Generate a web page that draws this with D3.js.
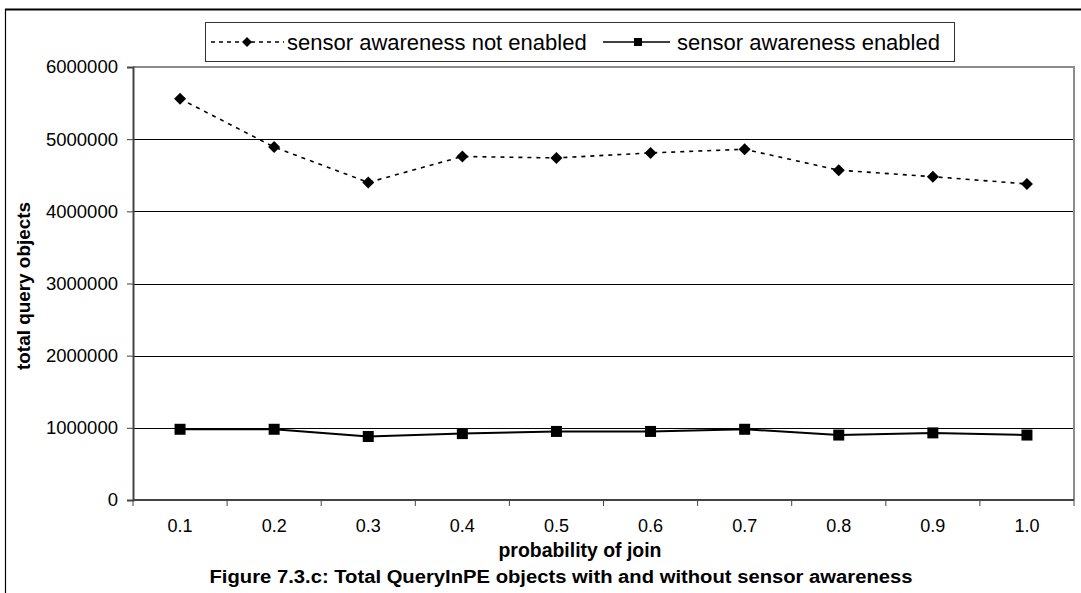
<!DOCTYPE html>
<html>
<head>
<meta charset="utf-8">
<script src="https://cdn.jsdelivr.net/npm/d3@7"></script>
<style>
  body { margin: 0; background: #fff; }
  svg { font-family: "Liberation Sans", Arial, sans-serif; }
</style>
</head>
<body>
<div id="chart"></div>
<script>
// probability of join
var categories = ["0.1", "0.2", "0.3", "0.4", "0.5", "0.6", "0.7", "0.8", "0.9", "1.0"];
// sensor awareness not enabled
var notEnabled = [5560000, 4890000, 4400000, 4760000, 4740000, 4810000, 4860000, 4570000, 4480000, 4380000];
// sensor awareness enabled
var enabled = [980000, 980000, 880000, 920000, 950000, 950000, 980000, 900000, 930000, 900000];
var yTicks = [0, 1000000, 2000000, 3000000, 4000000, 5000000, 6000000];
var seriesNames = ["sensor awareness not enabled", "sensor awareness enabled"];

var W = 1081, H = 593;
var plot = {left: 133, right: 1074, top: 67, bottom: 500};

var svg = d3.select("#chart").append("svg")
  .attr("width", W)
  .attr("height", H);

// outer frame (top and left only visible)
svg.append("line").attr("x1", 5).attr("x2", W).attr("y1", 9.5).attr("y2", 9.5)
  .attr("stroke", "#000").attr("stroke-width", 2);
svg.append("line").attr("x1", 5.5).attr("x2", 5.5).attr("y1", 9).attr("y2", H)
  .attr("stroke", "#000").attr("stroke-width", 1.2);

var x = d3.scaleBand()
  .domain(categories)
  .range([plot.left, plot.right]);

var y = d3.scaleLinear()
  .domain([0, 6000000])
  .range([plot.bottom, plot.top]);

// gridlines
svg.append("g")
  .selectAll("line")
  .data(yTicks.filter(function (d) { return d > 0 && d < 6000000; }))
  .enter().append("line")
  .attr("x1", plot.left).attr("x2", plot.right)
  .attr("y1", function (d) { return Math.round(y(d)) + 0.5; })
  .attr("y2", function (d) { return Math.round(y(d)) + 0.5; })
  .attr("stroke", "#000").attr("stroke-width", 1);

// plot border top/right (gray)
svg.append("path")
  .attr("d", "M" + plot.left + "," + plot.top + "H" + plot.right + "V" + plot.bottom)
  .attr("fill", "none").attr("stroke", "#8c8c8c").attr("stroke-width", 2);

// y axis
var yAxis = svg.append("g")
  .attr("transform", "translate(" + plot.left + ",0)")
  .call(d3.axisLeft(y).tickValues(yTicks).tickFormat(d3.format("d")).tickSize(6).tickPadding(9));
yAxis.select(".domain").attr("stroke", "#444").attr("stroke-width", 2);
yAxis.selectAll(".tick line").attr("stroke", "#444");
yAxis.selectAll("text").attr("font-size", "18.5px").attr("fill", "#000")
  .attr("font-family", "Liberation Sans, Arial, sans-serif");

// x axis: labels at category centres, ticks at band boundaries
var xAxis = svg.append("g")
  .attr("transform", "translate(0," + plot.bottom + ")")
  .call(d3.axisBottom(x).tickSize(0).tickPadding(19));
xAxis.select(".domain").remove();
xAxis.selectAll("text").attr("font-size", "18px").attr("fill", "#000")
  .attr("font-family", "Liberation Sans, Arial, sans-serif");
xAxis.append("line")
  .attr("x1", plot.left).attr("x2", plot.right)
  .attr("stroke", "#444").attr("stroke-width", 2);
xAxis.selectAll(".bt")
  .data(categories.concat(["end"]))
  .enter().append("line")
  .attr("class", "bt")
  .attr("x1", function (d, i) { return plot.left + i * x.step(); })
  .attr("x2", function (d, i) { return plot.left + i * x.step(); })
  .attr("y1", 0).attr("y2", 6)
  .attr("stroke", "#444").attr("stroke-width", 1);

var cx = function (d, i) { return x(categories[i]) + x.bandwidth() / 2; };

var line = d3.line()
  .x(cx)
  .y(function (d) { return y(d); });

// dotted series
svg.append("path")
  .datum(notEnabled)
  .attr("d", line)
  .attr("fill", "none")
  .attr("stroke", "#000")
  .attr("stroke-width", 1.6)
  .attr("stroke-dasharray", "4,5");

// solid series
svg.append("path")
  .datum(enabled)
  .attr("d", line)
  .attr("fill", "none")
  .attr("stroke", "#000")
  .attr("stroke-width", 2);

var diamond = d3.symbol().type(d3.symbolSquare).size(72);
var square = d3.symbol().type(d3.symbolSquare).size(121);

svg.selectAll(".dia")
  .data(notEnabled)
  .enter().append("path")
  .attr("class", "dia")
  .attr("d", diamond)
  .attr("transform", function (d, i) {
    return "translate(" + cx(d, i) + "," + y(d) + ") rotate(45)";
  })
  .attr("fill", "#000");

svg.selectAll(".sq")
  .data(enabled)
  .enter().append("path")
  .attr("class", "sq")
  .attr("d", square)
  .attr("transform", function (d, i) {
    return "translate(" + cx(d, i) + "," + y(d) + ")";
  })
  .attr("fill", "#000");

// legend
var legend = svg.append("g");
legend.append("rect")
  .attr("x", 205.5).attr("y", 22.5).attr("width", 749).attr("height", 39)
  .attr("fill", "#fff").attr("stroke", "#333").attr("stroke-width", 1);

legend.append("line")
  .attr("x1", 211).attr("x2", 284).attr("y1", 42).attr("y2", 42)
  .attr("stroke", "#000").attr("stroke-width", 1.6).attr("stroke-dasharray", "4,4");
legend.append("path")
  .attr("d", d3.symbol().type(d3.symbolSquare).size(50))
  .attr("transform", "translate(247,42) rotate(45)");
legend.append("text")
  .attr("x", 287).attr("y", 50)
  .attr("font-size", "22px")
  .text(seriesNames[0]);

legend.append("line")
  .attr("x1", 603).attr("x2", 670).attr("y1", 42).attr("y2", 42)
  .attr("stroke", "#000").attr("stroke-width", 1.3);
legend.append("path")
  .attr("d", d3.symbol().type(d3.symbolSquare).size(64))
  .attr("transform", "translate(638,42)");
legend.append("text")
  .attr("x", 677).attr("y", 50)
  .attr("font-size", "22px")
  .text(seriesNames[1]);

// axis titles
svg.append("text")
  .attr("x", 580).attr("y", 557)
  .attr("text-anchor", "middle")
  .attr("font-size", "19.5px").attr("font-weight", "bold")
  .attr("textLength", 163).attr("lengthAdjust", "spacingAndGlyphs")
  .text("probability of join");

svg.append("text")
  .attr("transform", "translate(30,286) rotate(-90)")
  .attr("text-anchor", "middle")
  .attr("font-size", "18px").attr("font-weight", "bold")
  .attr("textLength", 168).attr("lengthAdjust", "spacingAndGlyphs")
  .text("total query objects");

svg.append("text")
  .attr("x", 561).attr("y", 583)
  .attr("text-anchor", "middle")
  .attr("font-size", "18px").attr("font-weight", "bold")
  .attr("textLength", 703).attr("lengthAdjust", "spacingAndGlyphs")
  .text("Figure 7.3.c: Total QueryInPE objects with and without sensor awareness");
</script>
</body>
</html>
